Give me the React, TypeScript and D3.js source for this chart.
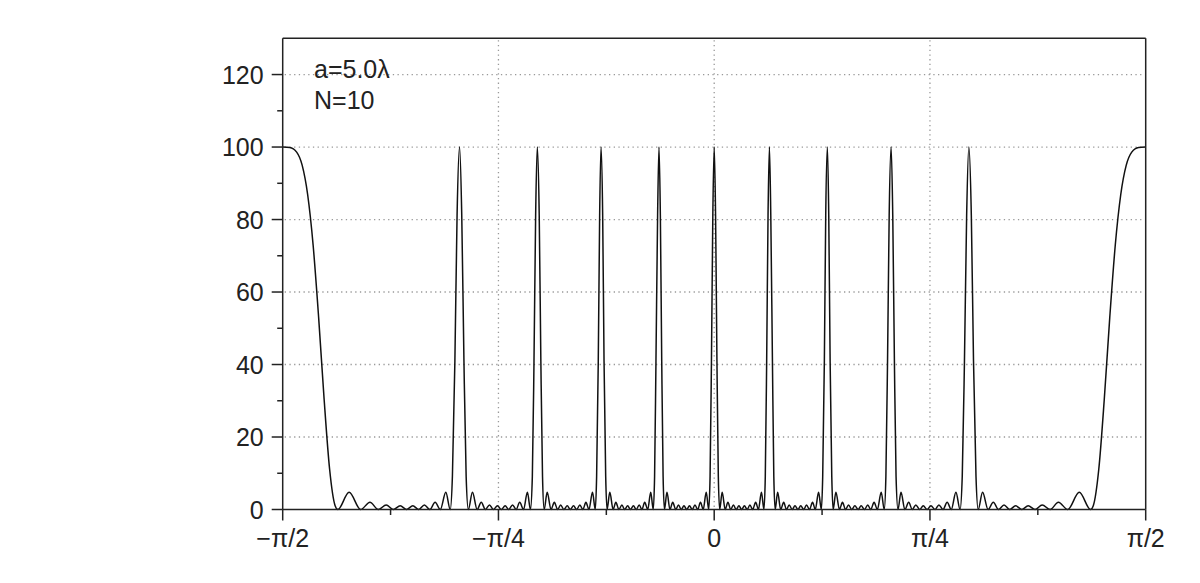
import React from "react";
import * as d3 from "d3";

// Intensity of a 10-slit grating (a = 5.0λ) versus angle θ (radians).
// Left half, ascending angle (−π/2 … just below 0)
const angleLeft: number[] = [
  -1.5708, -1.545, -1.52, -1.5, -1.48, -1.46, -1.44, -1.42, -1.4, -1.38,
  -1.37, -1.329, -1.287, -1.253, -1.223, -1.194, -1.168, -1.143, -1.12, -1.097, -1.076, -1.055, -1.035, -1.016, -0.997, -0.977, -0.961, -0.953, -0.944, -0.936, -0.927,
  -0.919, -0.911, -0.903, -0.895, -0.88, -0.863, -0.848, -0.833, -0.818, -0.804, -0.789, -0.775, -0.761, -0.748, -0.734, -0.721, -0.708, -0.694, -0.68, -0.669, -0.662, -0.656, -0.65, -0.644,
  -0.637, -0.631, -0.625, -0.619, -0.608, -0.594, -0.582, -0.57, -0.559, -0.547, -0.535, -0.524, -0.512, -0.501, -0.489, -0.478, -0.467, -0.456, -0.443, -0.433, -0.428, -0.422, -0.417, -0.412,
  -0.406, -0.401, -0.395, -0.39, -0.38, -0.368, -0.358, -0.347, -0.336, -0.326, -0.315, -0.305, -0.294, -0.284, -0.273, -0.263, -0.253, -0.242, -0.231, -0.222, -0.217, -0.212, -0.206, -0.201,
  -0.196, -0.191, -0.186, -0.181, -0.172, -0.161, -0.151, -0.14, -0.13, -0.12, -0.11, -0.1, -0.09, -0.08, -0.07, -0.06, -0.05, -0.04, -0.029, -0.02, -0.015, -0.01, -0.005,
];
const intensityLeft: number[] = [
  100, 99.9, 98.6, 95.0, 86.9, 72.9, 53.0, 30.4, 11.1, 1.06,
  0, 4.75, 0, 2.0, 0, 1.26, 0, 1.02, 0, 1.02, 0, 1.26, 0, 2.0, 0, 4.75, 0, 9.2, 40.9, 81.2, 100,
  81.2, 40.9, 9.2, 0, 4.75, 0, 2.0, 0, 1.26, 0, 1.02, 0, 1.02, 0, 1.26, 0, 2.0, 0, 4.75, 0, 9.2, 40.9, 81.2, 100,
  81.2, 40.9, 9.2, 0, 4.75, 0, 2.0, 0, 1.26, 0, 1.02, 0, 1.02, 0, 1.26, 0, 2.0, 0, 4.75, 0, 9.2, 40.9, 81.2, 100,
  81.2, 40.9, 9.2, 0, 4.75, 0, 2.0, 0, 1.26, 0, 1.02, 0, 1.02, 0, 1.26, 0, 2.0, 0, 4.75, 0, 9.2, 40.9, 81.2, 100,
  81.2, 40.9, 9.2, 0, 4.75, 0, 2.0, 0, 1.26, 0, 1.02, 0, 1.02, 0, 1.26, 0, 2.0, 0, 4.75, 0, 9.2, 40.9, 81.2,
];

// Right half, ascending angle (0 … π/2)
const angleRight: number[] = [
  0, 0.005, 0.01, 0.015, 0.02, 0.029, 0.04, 0.05, 0.06, 0.07, 0.08, 0.09, 0.1, 0.11, 0.12, 0.13, 0.14, 0.151, 0.161, 0.172, 0.181, 0.186, 0.191, 0.196,
  0.201, 0.206, 0.212, 0.217, 0.222, 0.231, 0.242, 0.253, 0.263, 0.273, 0.284, 0.294, 0.305, 0.315, 0.326, 0.336, 0.347, 0.358, 0.368, 0.38, 0.39, 0.395, 0.401, 0.406,
  0.412, 0.417, 0.422, 0.428, 0.433, 0.443, 0.456, 0.467, 0.478, 0.489, 0.501, 0.512, 0.524, 0.535, 0.547, 0.559, 0.57, 0.582, 0.594, 0.608, 0.619, 0.625, 0.631, 0.637,
  0.644, 0.65, 0.656, 0.662, 0.669, 0.68, 0.694, 0.708, 0.721, 0.734, 0.748, 0.761, 0.775, 0.789, 0.804, 0.818, 0.833, 0.848, 0.863, 0.88, 0.895, 0.903, 0.911, 0.919,
  0.927, 0.936, 0.944, 0.953, 0.961, 0.977, 0.997, 1.016, 1.035, 1.055, 1.076, 1.097, 1.12, 1.143, 1.168, 1.194, 1.223, 1.253, 1.287, 1.329, 1.37,
  1.38, 1.4, 1.42, 1.44, 1.46, 1.48, 1.5, 1.52, 1.545, 1.5708,
];
const intensityRight: number[] = [
  100, 81.2, 40.9, 9.2, 0, 4.75, 0, 2.0, 0, 1.26, 0, 1.02, 0, 1.02, 0, 1.26, 0, 2.0, 0, 4.75, 0, 9.2, 40.9, 81.2,
  100, 81.2, 40.9, 9.2, 0, 4.75, 0, 2.0, 0, 1.26, 0, 1.02, 0, 1.02, 0, 1.26, 0, 2.0, 0, 4.75, 0, 9.2, 40.9, 81.2,
  100, 81.2, 40.9, 9.2, 0, 4.75, 0, 2.0, 0, 1.26, 0, 1.02, 0, 1.02, 0, 1.26, 0, 2.0, 0, 4.75, 0, 9.2, 40.9, 81.2,
  100, 81.2, 40.9, 9.2, 0, 4.75, 0, 2.0, 0, 1.26, 0, 1.02, 0, 1.02, 0, 1.26, 0, 2.0, 0, 4.75, 0, 9.2, 40.9, 81.2,
  100, 81.2, 40.9, 9.2, 0, 4.75, 0, 2.0, 0, 1.26, 0, 1.02, 0, 1.02, 0, 1.26, 0, 2.0, 0, 4.75, 0,
  1.06, 11.1, 30.4, 53.0, 72.9, 86.9, 95.0, 98.6, 99.9, 100,
];

const xTickValues: number[] = [-Math.PI / 2, -Math.PI / 4, 0, Math.PI / 4, Math.PI / 2];
const xTickLabels: string[] = ["\u2212\u03c0/2", "\u2212\u03c0/4", "0", "\u03c0/4", "\u03c0/2"];
const xMinorTicks: number[] = [(-3 * Math.PI) / 8, -Math.PI / 8, Math.PI / 8, (3 * Math.PI) / 8];
const xGridValues: number[] = [-Math.PI / 4, 0, Math.PI / 4];
const yTickValues: number[] = [0, 20, 40, 60, 80, 100, 120];
const yMinorTicks: number[] = [10, 30, 50, 70, 90, 110];
const yGridValues: number[] = [20, 40, 60, 80, 100, 120];
const annotations: string[] = ["a=5.0\u03bb", "N=10"];

const W = 1200;
const H = 583;
const L = 282.7;
const R = 1145.7;
const T = 38.3;
const B = 509.5;
const FONT = "'Liberation Sans', Arial, Helvetica, sans-serif";

export default function App() {
  const x = d3.scaleLinear().domain([-Math.PI / 2, Math.PI / 2]).range([L, R]);
  const y = d3.scaleLinear().domain([0, 130]).range([B, T]);

  const points: [number, number][] = [];
  angleLeft.forEach((a, i) => points.push([a, intensityLeft[i]]));
  angleRight.forEach((a, i) => points.push([a, intensityRight[i]]));

  const line = d3
    .line<[number, number]>()
    .x((d) => x(d[0]))
    .y((d) => y(d[1]))
    .curve(d3.curveMonotoneX);

  const axisColor = "#222";
  const gridColor = "#999";

  return (
    <svg
      width={W}
      height={H}
      style={{ position: "absolute", left: 0, top: 0, background: "#fff" }}
      fontFamily={FONT}
    >
      {/* grid */}
      {yGridValues.map((v) => (
        <line
          key={"gy" + v}
          x1={L + 2}
          x2={R - 3}
          y1={y(v)}
          y2={y(v)}
          stroke={gridColor}
          strokeWidth={1.3}
          strokeDasharray="1.3,3.4"
        />
      ))}
      {xGridValues.map((v) => (
        <line
          key={"gx" + v}
          x1={x(v)}
          x2={x(v)}
          y1={T + 2}
          y2={B - 1}
          stroke={gridColor}
          strokeWidth={1.3}
          strokeDasharray="1.3,3.4"
        />
      ))}

      {/* curve */}
      <path d={line(points) || ""} fill="none" stroke="#111" strokeWidth={1.5} strokeLinejoin="round" />

      {/* frame */}
      <line x1={L} x2={R} y1={T} y2={T} stroke={axisColor} strokeWidth={1.5} />
      <line x1={R} x2={R} y1={T} y2={B} stroke={axisColor} strokeWidth={1.5} />
      <line x1={L} x2={L} y1={T} y2={B} stroke={axisColor} strokeWidth={1.5} />
      <line x1={L} x2={R} y1={B} y2={B} stroke={axisColor} strokeWidth={1.5} />

      {/* y ticks */}
      {yTickValues.map((v) => (
        <g key={"yt" + v}>
          <line x1={L - 11} x2={L} y1={y(v)} y2={y(v)} stroke={axisColor} strokeWidth={1.5} />
          <text
            x={L - 19}
            y={y(v) + 9}
            textAnchor="end"
            fontSize={25}
            fill="#222"
          >
            {v}
          </text>
        </g>
      ))}
      {yMinorTicks.map((v) => (
        <line key={"ym" + v} x1={L - 5.5} x2={L} y1={y(v)} y2={y(v)} stroke={axisColor} strokeWidth={1.5} />
      ))}

      {/* x ticks */}
      {xTickValues.map((v, i) => (
        <g key={"xt" + i}>
          <line x1={x(v)} x2={x(v)} y1={B} y2={B + 11} stroke={axisColor} strokeWidth={1.5} />
          <text x={x(v)} y={B + 37} textAnchor="middle" fontSize={25} fill="#222">
            {xTickLabels[i]}
          </text>
        </g>
      ))}
      {xMinorTicks.map((v, i) => (
        <line key={"xm" + i} x1={x(v)} x2={x(v)} y1={B} y2={B + 5.5} stroke={axisColor} strokeWidth={1.5} />
      ))}

      {/* annotation */}
      {annotations.map((s, i) => (
        <text key={"an" + i} x={314} y={78 + i * 31} fontSize={25} fill="#222">
          {s}
        </text>
      ))}
    </svg>
  );
}
